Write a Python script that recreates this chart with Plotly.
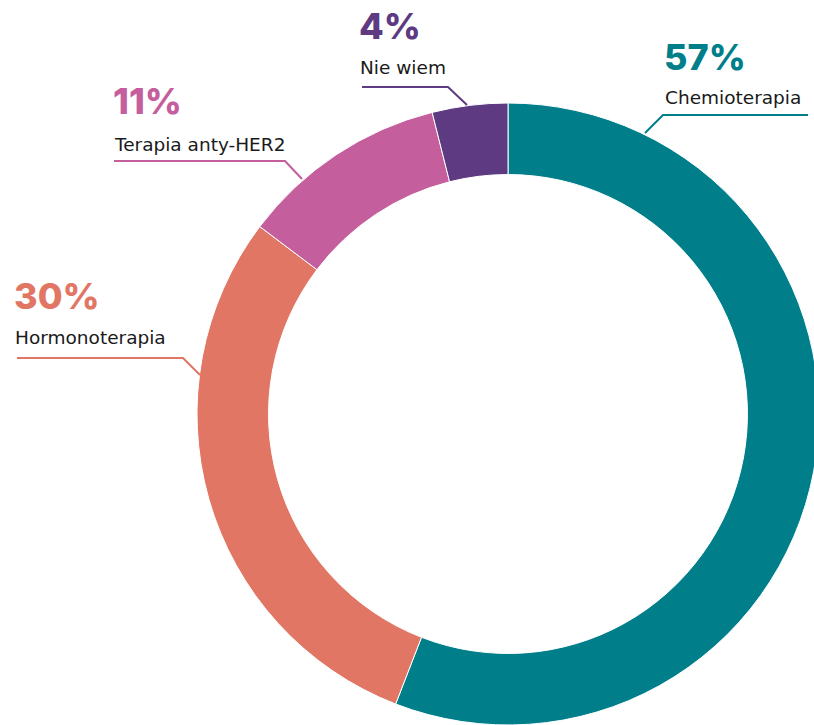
import plotly.graph_objects as go

# slice data
labels = ["Chemioterapia", "Hormonoterapia", "Terapia anty-HER2", "Nie wiem"]
values = [57, 30, 11, 4]
pct_text = ["57%", "30%", "11%", "4%"]
colors = ["#007f8b", "#e07663", "#c45e9c", "#5d3a81"]

# figure is a bit bigger than the window so the ring gets cropped on the
# right / bottom like the original
W, H = 840, 760

# label placement in window pixels: x, y of percent, y of name
label_pos = {
    "Chemioterapia": (662, 57, 97),
    "Hormonoterapia": (12, 296, 337),
    "Terapia anty-HER2": (111, 101, 144),
    "Nie wiem": (357, 26, 67),
}
# leader lines: start of horizontal, elbow, end on ring
leaders = {
    "Chemioterapia": [(808, 115), (663, 115), (645, 133)],
    "Hormonoterapia": [(17, 358), (183, 358), (200, 375)],
    "Terapia anty-HER2": [(114, 161), (285, 161), (302, 179)],
    "Nie wiem": [(362, 87), (448, 87), (467, 105)],
}

# ring centre and outer radius in window pixels
cx, cy, R = 508, 414, 311


def px(x, y):
    return x / W, 1 - y / H


fig = go.Figure(go.Pie(
    labels=labels,
    values=values,
    hole=0.77,
    sort=False,
    direction="clockwise",
    rotation=0,
    textinfo="none",
    hoverinfo="label+percent",
    marker=dict(colors=colors, line=dict(color="white", width=1)),
    domain=dict(x=[px(cx - R, 0)[0], px(cx + R, 0)[0]],
                y=[px(0, cy + R)[1], px(0, cy - R)[1]]),
    showlegend=False,
))

annotations = []
shapes = []
for lab, pct, col in zip(labels, pct_text, colors):
    x0, yp, yl = label_pos[lab]
    annotations.append(dict(x=px(x0, yp)[0], y=px(x0, yp)[1], xref="paper", yref="paper",
                            text=pct, showarrow=False, xanchor="left", yanchor="middle",
                            font=dict(family="Inter, sans-serif", size=36, color=col, weight=800)))
    annotations.append(dict(x=px(x0 + 1, yl)[0], y=px(x0 + 1, yl)[1], xref="paper", yref="paper",
                            text=lab, showarrow=False, xanchor="left", yanchor="middle",
                            font=dict(family="DejaVu Sans, sans-serif", size=18.5, color="#1a1a1a")))
    pts = [px(x, y) for x, y in leaders[lab]]
    path = "M {} {} L {} {} L {} {}".format(pts[0][0], pts[0][1], pts[1][0], pts[1][1], pts[2][0], pts[2][1])
    shapes.append(dict(type="path", xref="paper", yref="paper", path=path,
                       line=dict(color=col, width=2)))

fig.update_layout(
    width=W, height=H,
    margin=dict(l=0, r=0, t=0, b=0),
    paper_bgcolor="white",
    annotations=annotations,
    shapes=shapes,
)

# drop the default page margin so the figure sits at the window corner
fig.write_html("out.html", config={"displayModeBar": False},
               post_script="document.body.style.margin = '0';")
